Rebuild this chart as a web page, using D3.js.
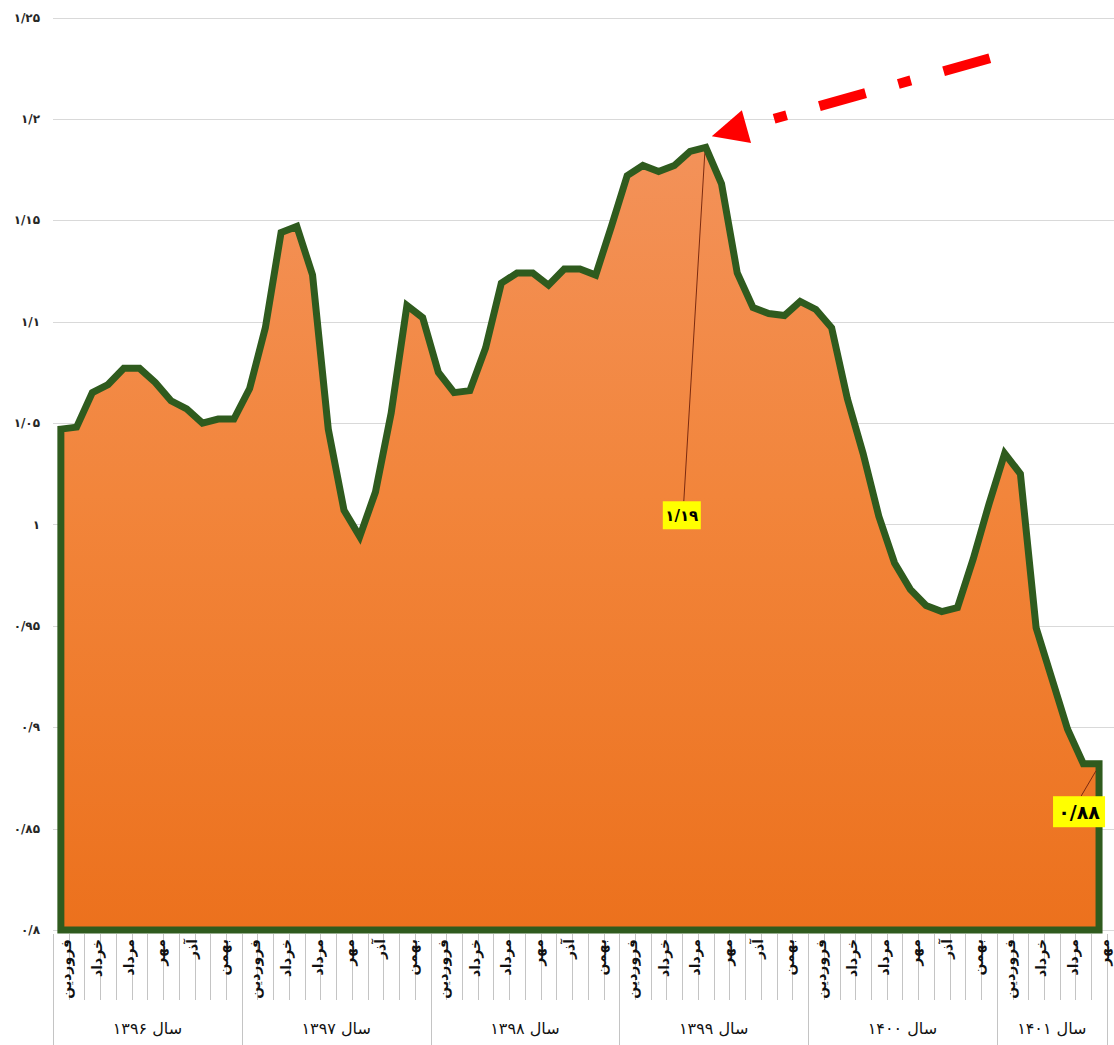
<!DOCTYPE html>
<html>
<head>
<meta charset="utf-8">
<script src="https://cdn.jsdelivr.net/npm/d3@7"></script>
<style>
  html, body { margin: 0; padding: 0; background: #fff; }
  svg { display: block; }
  text { font-family: "DejaVu Sans", sans-serif; }
</style>
</head>
<body>
<div id="chart"></div>
<script>
// month names (only every second one is printed on the axis)
const monthNames = ['فروردین', 'اردیبهشت', 'خرداد', 'تیر', 'مرداد', 'شهریور',
  'مهر', 'آبان', 'آذر', 'دی', 'بهمن', 'اسفند'];
const years = ['۱۳۹۶', '۱۳۹۷', '۱۳۹۸', '۱۳۹۹', '۱۴۰۰', '۱۴۰۱'];

// monthly values, one array per year
const rate1396 = [1.047, 1.048, 1.065, 1.069, 1.077, 1.077, 1.070, 1.061, 1.057, 1.050, 1.052, 1.052];
const rate1397 = [1.067, 1.097, 1.144, 1.147, 1.123, 1.047, 1.007, 0.994, 1.016, 1.055, 1.108, 1.102];
const rate1398 = [1.075, 1.065, 1.066, 1.087, 1.119, 1.124, 1.124, 1.118, 1.126, 1.126, 1.123, 1.147];
const rate1399 = [1.172, 1.177, 1.174, 1.177, 1.184, 1.186, 1.168, 1.124, 1.107, 1.104, 1.103, 1.110];
const rate1400 = [1.106, 1.097, 1.062, 1.035, 1.004, 0.981, 0.968, 0.960, 0.957, 0.959, 0.983, 1.010];
const rate1401 = [1.035, 1.025, 0.949, 0.924, 0.899, 0.882, 0.882];

const yTicks = [0.8, 0.85, 0.9, 0.95, 1, 1.05, 1.1, 1.15, 1.2, 1.25];

// points that carry a yellow value label
const labelled = [41, 66];

const values = [].concat(rate1396, rate1397, rate1398, rate1399, rate1400, rate1401);
const n = values.length;

const width = 1114;
const height = 1045;
const bw = 15.73;
const left = 53;

const fa = s => String(s).replace(/\d/g, d => '۰۱۲۳۴۵۶۷۸۹'[+d]).replace('.', '/');
const fmt = d3.format('.2~f');

const svg = d3.select('#chart')
  .append('svg')
    .attr('width', width)
    .attr('height', height);

const x = d3.scaleBand()
  .domain(d3.range(n))
  .range([left, left + n * bw]);

const y = d3.scaleLinear()
  .domain([0.8, 1.25])
  .range([930, 17.5]);

const cx = i => x(i) + x.bandwidth() / 2;

// gradient for the area
const grad = svg.append('defs').append('linearGradient')
    .attr('id', 'fillGrad')
    .attr('gradientUnits', 'userSpaceOnUse')
    .attr('x1', 0).attr('x2', 0)
    .attr('y1', y(1.19)).attr('y2', y(0.8));
grad.append('stop').attr('offset', 0).attr('stop-color', '#f3925a');
grad.append('stop').attr('offset', 0.45).attr('stop-color', '#f2853b');
grad.append('stop').attr('offset', 1).attr('stop-color', '#ec711d');

// gridlines
svg.append('g')
  .selectAll('line')
  .data(yTicks)
  .enter().append('line')
    .attr('x1', left)
    .attr('x2', width)
    .attr('y1', d => Math.round(y(d)) + 0.5)
    .attr('y2', d => Math.round(y(d)) + 0.5)
    .attr('stroke', '#d9d9d9')
    .attr('stroke-width', 1);

// y labels
svg.append('g')
  .selectAll('text')
  .data(yTicks)
  .enter().append('text')
    .attr('x', 40)
    .attr('y', d => y(d))
    .attr('dy', '0.35em')
    .attr('text-anchor', 'end')
    .attr('font-size', 12)
    .attr('font-weight', 'bold')
    .attr('fill', '#262626')
    .text(d => fa(fmt(d)));

// the area
const area = d3.area()
  .x((d, i) => cx(i))
  .y0(y(0.8))
  .y1(d => y(d));

svg.append('path')
  .datum(values)
    .attr('d', d => area(d))
    .attr('fill', 'url(#fillGrad)')
    .attr('stroke', '#2f5b1e')
    .attr('stroke-width', 7)
    .attr('stroke-linejoin', 'miter')
    .attr('stroke-miterlimit', 4);

// category ticks
svg.append('g')
  .selectAll('line')
  .data(d3.range(n + 1))
  .enter().append('line')
    .attr('x1', k => Math.round(left + k * bw) + 0.5)
    .attr('x2', k => Math.round(left + k * bw) + 0.5)
    .attr('y1', 934)
    .attr('y2', k => (k % 12 === 0 || k === n) ? height : 1000)
    .attr('stroke', '#c4c4c4')
    .attr('stroke-width', 1);

// month labels, every second month
svg.append('g')
  .selectAll('text')
  .data(d3.range(n).filter(i => (i % 12) % 2 === 0))
  .enter().append('text')
    .attr('transform', i => `translate(${cx(i) + 10},939) rotate(-90)`)
    .attr('text-anchor', 'end')
    .attr('font-size', 14)
    .attr('font-weight', 'bold')
    .attr('fill', '#111')
    .text(i => monthNames[i % 12]);

// year labels
svg.append('g')
  .selectAll('text')
  .data(years)
  .enter().append('text')
    .attr('x', (d, yi) => {
      const s = yi * 12;
      const e = Math.min(s + 12, n);
      return (x(s) + x(e - 1) + x.bandwidth()) / 2;
    })
    .attr('y', 1028)
    .attr('dy', '0.35em')
    .attr('text-anchor', 'middle')
    .attr('font-size', 16)
    .attr('fill', '#111')
    .text(d => 'سال ' + d);

// value labels with leader lines
const boxes = {
  41: { dx: -24, dy: 368, w: 38, h: 28, size: 15, from: [-1, 6] },
  66: { dx: -20, dy: 48, w: 52, h: 31, size: 19, from: [-3, 7] }
};
labelled.forEach(i => {
  const b = boxes[i];
  const px = cx(i);
  const py = y(values[i]);
  const bx = px + b.dx;
  const by = py + b.dy;
  svg.append('line')
    .attr('x1', px + b.from[0]).attr('y1', py + b.from[1])
    .attr('x2', bx + 2).attr('y2', by - b.h / 2)
    .attr('stroke', '#7a2a10')
    .attr('stroke-width', 1);
  svg.append('rect')
    .attr('x', bx - b.w / 2).attr('y', by - b.h / 2)
    .attr('width', b.w).attr('height', b.h)
    .attr('fill', '#ffff00');
  svg.append('text')
    .attr('x', bx).attr('y', by)
    .attr('dy', '0.36em')
    .attr('text-anchor', 'middle')
    .attr('font-size', b.size)
    .attr('font-weight', 'bold')
    .attr('fill', '#000')
    .text(fa(fmt(values[i])));
});

// red dash-dot arrow pointing at the peak
const peak = d3.maxIndex(values);
const tip = [cx(peak) + 6, y(values[peak]) - 11];
const tail = [tip[0] + 278, tip[1] - 78];
const len = Math.hypot(tail[0] - tip[0], tail[1] - tip[1]);
const ux = (tail[0] - tip[0]) / len;
const uy = (tail[1] - tip[1]) / len;
const headLen = 36;
const headHalf = 17;
const base = [tip[0] + ux * headLen, tip[1] + uy * headLen];

svg.append('line')
  .attr('x1', tail[0]).attr('y1', tail[1])
  .attr('x2', base[0]).attr('y2', base[1])
  .attr('stroke', '#ff0000')
  .attr('stroke-width', 10)
  .attr('stroke-dasharray', '48 34 13 34');

svg.append('path')
  .attr('d', d3.line()([
    tip,
    [base[0] - uy * headHalf, base[1] + ux * headHalf],
    [base[0] + uy * headHalf, base[1] - ux * headHalf]
  ]) + 'Z')
  .attr('fill', '#ff0000');
</script>
</body>
</html>
